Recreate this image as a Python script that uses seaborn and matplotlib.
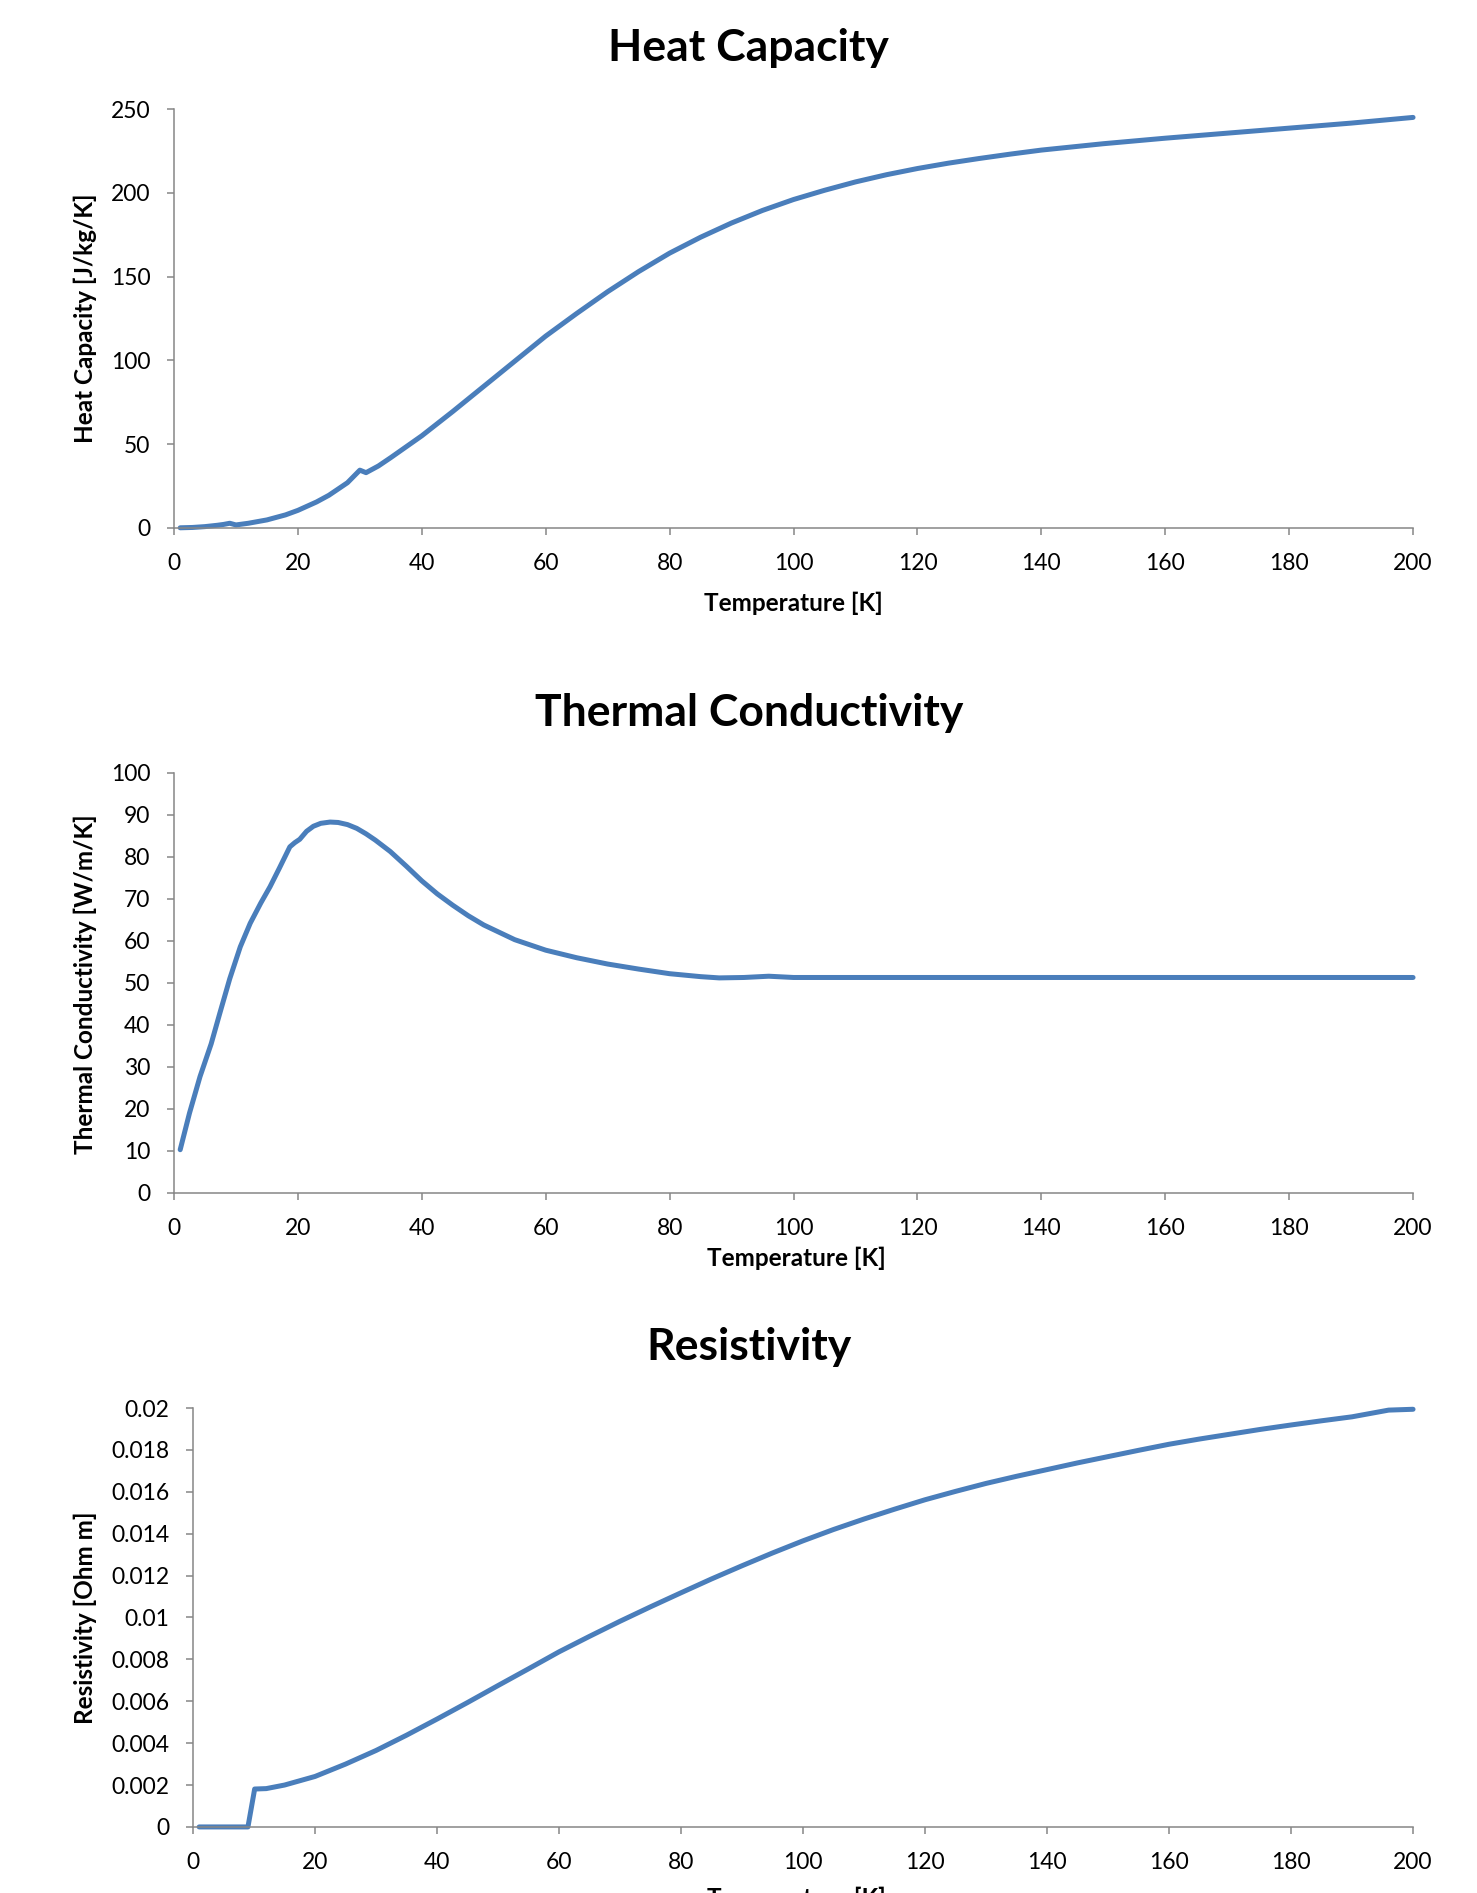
import matplotlib
matplotlib.use("Agg")
import matplotlib.pyplot as plt
import seaborn as sns
import pandas as pd
from matplotlib.ticker import FormatStrFormatter, MultipleLocator

# heat capacity [J/kg/K] vs temperature [K]
cp_temp = [1, 3, 5, 7, 8, 9, 10, 12, 15, 18, 20, 23, 25, 28, 30, 31, 33, 35,
           40, 45, 50, 55, 60, 65, 70, 75, 80, 85, 90, 95, 100, 105, 110,
           115, 120, 125, 130, 135, 140, 150, 160, 170, 180, 190, 200]
cp_vals = [0.1, 0.3, 0.8, 1.6, 2.1, 2.8, 1.8, 2.8, 4.8, 7.8, 10.5, 15.5, 19.5,
           27.0, 34.5, 33.0, 37.0, 42.0, 55.0, 69.5, 84.5, 99.5, 114.5,
           128.0, 141.0, 153.0, 164.0, 173.5, 182.0, 189.5, 196.0, 201.5,
           206.5, 210.8, 214.5, 217.7, 220.5, 223.1, 225.5, 229.3, 232.6,
           235.6, 238.6, 241.6, 245.0]

# thermal conductivity [W/m/K]
k_temp = [1, 2.5, 4.2, 6, 7.4, 9, 10.7, 12.3, 14, 15.5, 17, 18.7, 19.5, 20.3,
          21.4, 22.5, 23.7, 25.2, 26.5, 28, 29.5, 31, 32.5, 34.9, 37.5, 40,
          42.5, 45, 47.5, 50, 55, 60, 65, 70, 75, 80, 85, 88, 92, 96, 100,
          120, 140, 160, 180, 200]
k_vals = [10.3, 19.0, 27.7, 35.5, 42.8, 51.0, 58.6, 64.2, 69.0, 72.9, 77.3,
          82.4, 83.4, 84.2, 86.1, 87.3, 88.0, 88.3, 88.2, 87.7, 86.8, 85.5,
          84.0, 81.3, 77.8, 74.3, 71.2, 68.5, 66.0, 63.8, 60.3, 57.8, 56.0,
          54.5, 53.3, 52.2, 51.5, 51.2, 51.3, 51.6, 51.3, 51.3, 51.3, 51.3,
          51.3, 51.3]

# resistivity [Ohm m]
rho_temp = [1, 5, 9, 10.1, 12, 15, 20, 25, 30, 35, 40, 45, 50, 55, 60, 65,
            70, 75, 80, 85, 90, 95, 100, 105, 110, 115, 120, 125, 130, 135,
            140, 145, 150, 155, 160, 165, 170, 175, 180, 185, 190, 196, 200]
rho_vals = [0.0, 0.0, 0.0, 0.00181, 0.00183, 0.00200, 0.00241, 0.00300,
            0.00365, 0.00438, 0.00515, 0.00594, 0.00675, 0.00755, 0.00836,
            0.00910, 0.00982, 0.01051, 0.01118, 0.01184, 0.01247, 0.01308,
            0.01366, 0.01420, 0.01470, 0.01517, 0.01562, 0.01602, 0.01640,
            0.01674, 0.01706, 0.01738, 0.01768, 0.01798, 0.01827, 0.01852,
            0.01875, 0.01898, 0.01919, 0.01939, 0.01958, 0.01990, 0.01994]

x_ticks = list(range(0, 201, 20))

sns.set_theme(style="white")
plt.rcParams["font.family"] = ["Lato", "DejaVu Sans"]
plt.rcParams["text.color"] = "black"

LINE = "#4a7ebb"
AXIS = "#868686"

fig = plt.figure(figsize=(14.77, 18.93), dpi=100)

panels = [
    dict(pos=[0.1178, 0.7211, 0.8389, 0.2213], x=cp_temp, y=cp_vals,
         ylim=(0, 250), ystep=50, fmt="%g", title="Heat Capacity",
         ylabel="Heat Capacity [J/kg/K]", ty=0.9746, ly=0.832,
         xl=(0.537, 0.6815)),
    dict(pos=[0.1178, 0.3698, 0.8389, 0.2219], x=k_temp, y=k_vals,
         ylim=(0, 100), ystep=10, fmt="%g", title="Thermal Conductivity",
         ylabel="Thermal Conductivity [W/m/K]", ty=0.6234, ly=0.480,
         xl=(0.539, 0.3354)),
    dict(pos=[0.1307, 0.0349, 0.8260, 0.2213], x=rho_temp, y=rho_vals,
         ylim=(0, 0.02), ystep=0.002, fmt="%g", title="Resistivity",
         ylabel="Resistivity [Ohm m]", ty=0.2884, ly=0.1453,
         xl=(0.539, -0.0028)),
]

for p in panels:
    ax = fig.add_axes(p["pos"])
    df = pd.DataFrame({"T": p["x"], "v": p["y"]})
    sns.lineplot(data=df, x="T", y="v", ax=ax, color=LINE, linewidth=3.6,
                 solid_capstyle="round", solid_joinstyle="round", sort=False,
                 clip_on=False)
    ax.set_xlim(0, 200)
    ax.set_ylim(*p["ylim"])
    ax.set_xticks(x_ticks)
    ax.yaxis.set_major_locator(MultipleLocator(p["ystep"]))
    ax.yaxis.set_major_formatter(FormatStrFormatter(p["fmt"]))
    ax.set_xlabel("")
    ax.set_ylabel("")
    for side in ["top", "right"]:
        ax.spines[side].set_visible(False)
    for side in ["left", "bottom"]:
        ax.spines[side].set_color(AXIS)
        ax.spines[side].set_linewidth(1.1)
    ax.tick_params(axis="both", which="major", direction="out", length=5,
                   width=1.1, color=AXIS, labelsize=16.5, labelcolor="black",
                   left=True, bottom=True)
    ax.tick_params(axis="y", pad=12)
    ax.tick_params(axis="x", pad=13)
    ax.set_facecolor("white")

    fig.text(0.507, p["ty"], p["title"], ha="center", va="center",
             fontsize=32, fontweight="bold", color="black")
    fig.text(0.0575, p["ly"], p["ylabel"], ha="center", va="center",
             rotation=90, fontsize=17.5, fontweight="bold", color="black")
    fig.text(p["xl"][0], p["xl"][1], "Temperature [K]", ha="center",
             va="center", fontsize=17.5, fontweight="bold", color="black")

fig.savefig("out.png", dpi=100, facecolor="white")
